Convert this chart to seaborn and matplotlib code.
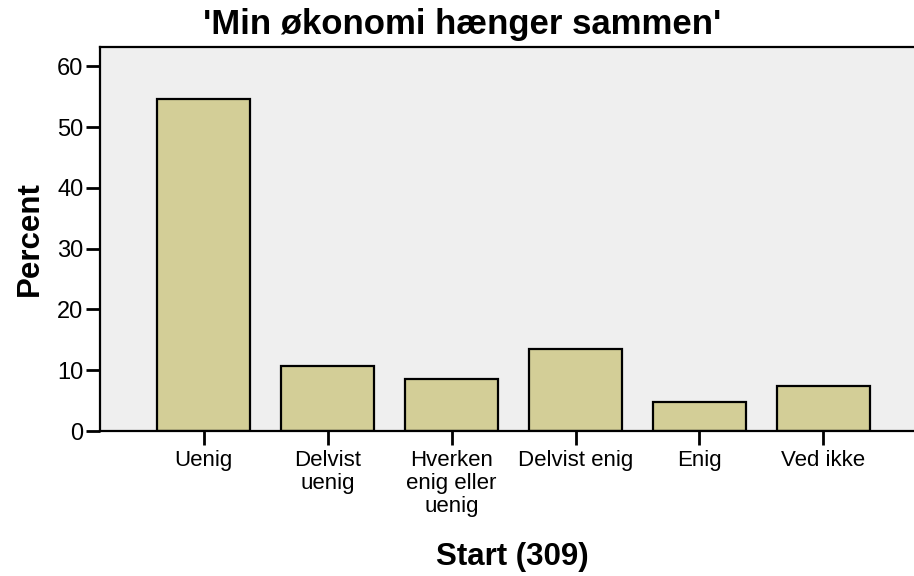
import matplotlib
matplotlib.use("Agg")
import pandas as pd
import seaborn as sns
import matplotlib.pyplot as plt

# answers to 'Min økonomi hænger sammen' at Start (n=309)
categories = ["Uenig", "Delvist\nuenig", "Hverken\nenig eller\nuenig", "Delvist enig", "Enig", "Ved ikke"]
percent = [54.7, 10.7, 8.6, 13.5, 4.8, 7.4]

df = pd.DataFrame({"svar": categories, "percent": percent})

sns.set_style("white")
plt.rcParams["font.family"] = ["Liberation Sans", "DejaVu Sans"]
plt.rcParams["text.color"] = "black"
plt.rcParams["axes.labelcolor"] = "black"
plt.rcParams["xtick.color"] = "black"
plt.rcParams["ytick.color"] = "black"

fig = plt.figure(figsize=(9.14, 5.76), dpi=100)
ax = fig.add_axes([100 / 914, 145 / 576, 814 / 914, 384 / 576])
ax.set_facecolor("#efefef")

sns.barplot(data=df, x="svar", y="percent", color="#d3ce97", width=0.755,
            edgecolor="black", linewidth=1.6, saturation=1, ax=ax)

ax.set_xlim(-0.835, 5.73)
ax.set_ylim(0, 63.2)
ax.set_yticks([0, 10, 20, 30, 40, 50, 60])

for side in ["left", "bottom", "top"]:
    ax.spines[side].set_visible(True)
    ax.spines[side].set_linewidth(1.6)
    ax.spines[side].set_color("black")
ax.spines["right"].set_visible(False)

ax.tick_params(axis="both", which="major", direction="out", length=10, width=2,
               color="black", labelsize=16, left=True, bottom=True)
ax.tick_params(axis="x", pad=4)
ax.tick_params(axis="y", pad=2, labelsize=17)
for lbl in ax.get_xticklabels():
    lbl.set_linespacing(1.1)

ax.set_xlabel("Start (309)", fontsize=22.5, fontweight="bold", labelpad=18)
ax.xaxis.label.set_x(0.507)
ax.set_ylabel("Percent", fontsize=22.5, fontweight="bold", labelpad=9)
fig.text(0.506, 0.958, "'Min økonomi hænger sammen'", ha="center", va="center",
         fontsize=25, fontweight="bold")

fig.savefig("out.png", dpi=100)
